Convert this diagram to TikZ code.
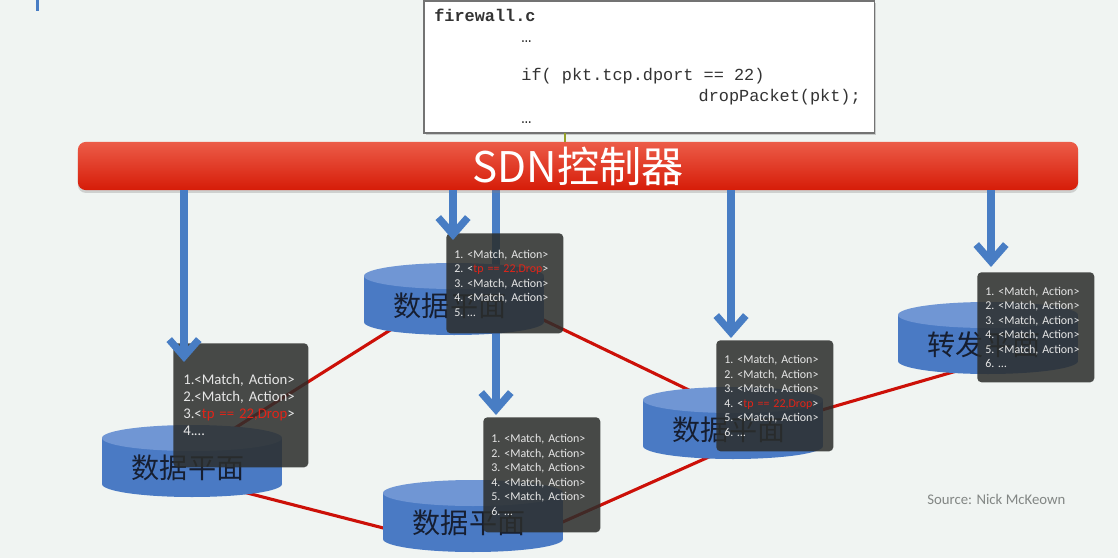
\documentclass[tikz,border=0pt]{standalone}
\usepackage{fontspec}
\setmainfont{Carlito}
\newfontfamily\cjkfont{Noto Sans CJK SC}
\newfontfamily\codefont{Liberation Mono}
\usetikzlibrary{calc,positioning,arrows.meta,shadows}

\definecolor{slidebg}{RGB}{240,244,242}
\definecolor{ctlredtop}{RGB}{236,92,72}
\definecolor{ctlredbot}{RGB}{214,28,8}
\definecolor{ctlblue}{RGB}{72,125,196}
\definecolor{planebody}{RGB}{74,122,196}
\definecolor{planetop}{RGB}{112,150,212}
\definecolor{planetext}{RGB}{22,30,48}
\definecolor{linkred}{RGB}{204,16,8}
\definecolor{tabgrey}{RGB}{44,46,44}
\definecolor{tabtext}{RGB}{230,230,230}
\definecolor{droptext}{RGB}{226,36,24}
\definecolor{srcgrey}{RGB}{130,134,132}
\definecolor{hookgreen}{RGB}{150,160,40}

\pgfdeclarelayer{bg}
\pgfdeclarelayer{links}
\pgfdeclarelayer{front}
\pgfsetlayers{bg,links,main,front}

\tikzset{
  ctlbar/.style={rounded corners=0.2cm, minimum width=25cm, minimum height=1.2cm,
    top color=ctlredtop, bottom color=ctlredbot, text=white,
    font=\cjkfont\fontsize{30}{30}\selectfont,
    drop shadow={opacity=0.3, shadow xshift=0pt, shadow yshift=-2pt}},
  codebox/.style={draw=black!55, line width=0.8pt, fill=white,
    minimum width=11.25cm, minimum height=3.3cm,
    drop shadow={opacity=0.35, shadow xshift=1.5pt, shadow yshift=-1.5pt}},
  codetext/.style={anchor=north west, inner sep=0pt, align=left, text=black!80,
    font=\codefont\fontsize{12}{15}\selectfont},
  planelabel/.style={inner sep=0pt, text=planetext, font=\cjkfont\fontsize{20}{20}\selectfont},
  flowtab/.style={anchor=north west, rounded corners=3pt, fill=tabgrey, fill opacity=0.86,
    text opacity=1, text=tabtext, align=left, inner xsep=0.2cm, text width=2.525cm,
    font=\frenchspacing\fontsize{8.5}{10.3}\selectfont},
  redlink/.style={linkred, line width=2.2pt},
  ctlarrow/.style={ctlblue, line width=5.2pt, -{Straight Barb[length=12pt,width=21pt]}},
  hooktick/.style={hookgreen, line width=1pt},
  srctext/.style={anchor=west, inner sep=0pt, text=srcgrey, font=\fontsize{10.5}{12}\selectfont}
}

% data plane drum: centre x, top y, name, label
\def\dataplane(#1,#2)#3#4{%
  \fill[planebody] (#1-90,#2) rectangle (#1+90,#2+46);
  \fill[planebody] (#1,#2+46) ellipse (90 and 13);
  \fill[planetop] (#1,#2) ellipse (90 and 13);
  \node[planelabel] (#3) at (#1-4,#2+30) {#4};
}
\newcommand\ma{\mbox{<Match, Action>}}
\newcommand\droprule{\mbox{<\textcolor{droptext}{tp == 22,Drop}>}}

\begin{document}
\begin{tikzpicture}[x=0.025cm,y=-0.025cm]
			%%%%% START %%%%%
			\begin{pgfonlayer}{bg}
			\fill[slidebg] (0,0) rectangle (1118,558);
			\end{pgfonlayer}
			\useasboundingbox (0,0) rectangle (1118,558);
			
			\fill[ctlblue] (36,0) rectangle (39,11);
			
			% program on the controller
			\node[codebox] (code) at (649,67) {};
			\node[codetext] (prog) at (434,9) {\textbf{firewall.c}\\
				\hspace*{62pt}…\\[12pt]
				\hspace*{62pt}if( pkt.tcp.dport == 22)\\
				\hspace*{188pt}dropPacket(pkt);\\
				\hspace*{62pt}…};
			
			\node[ctlbar] (sdn) at (578,166) {SDN控制器};
			\coordinate (hook) at (565,133);
			\draw[hooktick] (hook) -- (hook |- sdn.north);
			
			% switches
			\dataplane(192,438){dp1}{数据平面}
			\dataplane(454,276){dp2}{数据平面}
			\dataplane(473,493){dp3}{数据平面}
			\dataplane(733,400){dp4}{数据平面}
			\dataplane(988,315){dp5}{转发平面}
			
			% flow tables
			\node[flowtab, inner xsep=0.25cm, text width=2.875cm, minimum height=3.1cm, font=\fontsize{10.5}{12.1}\selectfont] (tab1) at (173,343)
				{1.<Match, Action>\\2.<Match, Action>\\3.\droprule\\4.…};
			\node[flowtab, minimum height=2.5cm] (tab2) at (446,233)
				{1. \ma\\2. \droprule\\3. \ma\\4. \ma\\5. …};
			\node[flowtab, minimum height=2.875cm] (tab3) at (483,417)
				{1. \ma\\2. \ma\\3. \ma\\4. \ma\\5. \ma\\6. …};
			\node[flowtab, minimum height=2.775cm] (tab4) at (716,340)
				{1. \ma\\2. \ma\\3. \ma\\4. \droprule\\5. \ma\\6. …};
			\node[flowtab, minimum height=2.75cm] (tab5) at (977,272)
				{1. \ma\\2. \ma\\3. \ma\\4. \ma\\5. \ma\\6. …};
			
			\coordinate (a1) at ($(tab1.north west)+(11,19)$);
			\coordinate (a2) at ($(tab2.north west)+(7,7)$);
			\coordinate (a3) at ($(tab3.north west)+(13,-2)$);
			\coordinate (a4) at ($(tab4.north west)+(15,-2)$);
			\coordinate (a5) at ($(tab5.north west)+(14,-5)$);
			
			\begin{pgfonlayer}{links}
			\draw[redlink] ($(dp1)+(12,-18)$) -- ($(dp2)+(-20,-1)$);
			\draw[redlink] ($(dp1)+(32,18)$) -- ($(dp3)+(-39,17)$);
			\draw[redlink] ($(dp2)+(50,-7)$) -- ($(dp4)+(-9,-25)$);
			\draw[redlink] ($(dp3)+(51,18)$) -- ($(dp4)+(-9,22)$);
			\draw[redlink] ($(dp4)+(41,-5)$) -- ($(dp5)+(-24,25)$);
			\draw[ctlarrow] (sdn.south -| a3) -- (a3);
			\end{pgfonlayer}
			
			\begin{pgfonlayer}{front}
			\draw[ctlarrow] (sdn.south -| a1) -- (a1);
			\draw[ctlarrow] (sdn.south -| a2) -- (a2);
			\draw[ctlarrow] (sdn.south -| a4) -- (a4);
			\draw[ctlarrow] (sdn.south -| a5) -- (a5);
			\end{pgfonlayer}
			
			\node[srctext] (src) at (927,499) {Source: Nick McKeown};
			%%%%% END %%%%%
\end{tikzpicture}
\end{document}
